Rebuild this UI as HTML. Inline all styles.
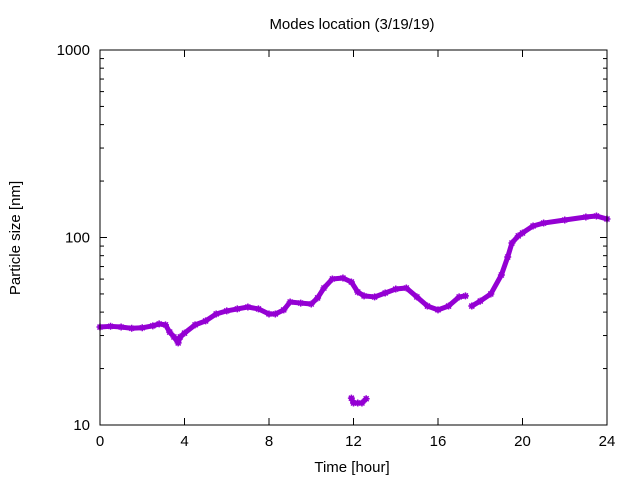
<!DOCTYPE html>
<html><head><meta charset="utf-8"><style>
body{margin:0;background:#fff;}
svg text{font-family:"Liberation Sans",sans-serif;font-size:15px;fill:#000;}
</style></head><body>
<svg id="chart" width="640" height="480" xmlns="http://www.w3.org/2000/svg">
<rect width="640" height="480" fill="#fff"/>
<text x="352" y="29" text-anchor="middle">Modes location (3/19/19)</text>
<text x="352" y="472" text-anchor="middle">Time [hour]</text>
<text x="20" y="238" text-anchor="middle" transform="rotate(-90 20 238)">Particle size [nm]</text>
<g id="axes"></g>
<g id="marks"></g>
<rect x="100" y="50" width="507" height="375" fill="none" stroke="#000" stroke-width="1"/>
</svg>
<script>
const xTicks=[0,4,8,12,16,20,24];
const yTicks=[10,100,1000];
const mainT=[0,0.5,1,1.5,2,2.5,2.8,3.1,3.3,3.5,3.7,3.8,4,4.5,5,5.5,6,6.5,7,7.5,8,8.3,8.7,9,9.5,10,10.3,10.6,11,11.5,11.9,12.2,12.5,13,13.5,14,14.5,15,15.5,16,16.5,17,17.3];
const mainV=[33.3,33.6,33.3,32.8,33,33.8,34.6,34.2,31.3,29.5,27.4,29.5,30.9,34.2,35.9,39.1,40.6,41.6,42.6,41.6,39.1,39.1,41.1,45.3,44.7,44.2,47.6,53.8,60.1,60.8,57.9,51.2,48.8,48.2,50.6,53.1,53.8,48.2,43.1,41.1,43.1,48.2,48.8];
const lateT=[17.6,18,18.5,19,19.3,19.5,19.8,20,20.5,21,22,23,23.5,24];
const lateV=[43.1,45.8,50,63.1,78.7,93.5,102,105.7,115.2,119.4,124,128.6,130.2,125.5];
const lowT=[11.9,12,12.2,12.4,12.6];
const lowV=[13.9,13.1,13.1,13.1,13.8];
const X0=100,X1=607,Y0=425,Y1=50;
const xs=t=>X0+(t-0)/24*(X1-X0);
const ys=v=>Y0-(Math.log10(v)-1)/2*(Y0-Y1);
const NS="http://www.w3.org/2000/svg";
const axes=document.getElementById('axes'),marks=document.getElementById('marks');
function ln(p,x1,y1,x2,y2){const l=document.createElementNS(NS,'line');l.setAttribute('x1',x1);l.setAttribute('y1',y1);l.setAttribute('x2',x2);l.setAttribute('y2',y2);l.setAttribute('stroke','#000');p.appendChild(l);return l;}
xTicks.forEach(t=>{const x=xs(t);
const a=ln(axes,x,Y0,x,Y0-7);


ln(axes,x,Y1,x,Y1+7);
const tx=document.createElementNS(NS,'text');


tx.setAttribute('x',x);tx.setAttribute('y',446);tx.setAttribute('text-anchor','middle');tx.textContent=t;axes.appendChild(tx);});
yTicks.forEach(v=>{const y=ys(v);
const a=ln(axes,X0,y,X0+7,y);


ln(axes,X1,y,X1-7,y);
const tx=document.createElementNS(NS,'text');


tx.setAttribute('x',90);tx.setAttribute('y',y+5);tx.setAttribute('text-anchor','end');tx.textContent=v;axes.appendChild(tx);});
[10,100].forEach(d=>{for(let k=2;k<=9;k++){const y=ys(d*k);ln(axes,X0,y,X0+4,y);ln(axes,X1,y,X1-4,y);}});
function series(T,V,name){
const pts=T.map((t,i)=>xs(t)+','+ys(V[i])).join(' ');
const pl=document.createElementNS(NS,'polyline');


pl.setAttribute('points',pts);pl.setAttribute('fill','none');pl.setAttribute('stroke','#9400d3');pl.setAttribute('stroke-width','5');pl.setAttribute('stroke-linejoin','round');pl.setAttribute('stroke-linecap','round');
marks.appendChild(pl);
T.forEach((t,i)=>{const m=document.createElementNS(NS,'path');


const x=xs(t),y=ys(V[i]);
m.setAttribute('d',`M${x-3.5},${y}H${x+3.5}M${x},${y-3.5}V${y+3.5}M${x-2.5},${y-2.5}L${x+2.5},${y+2.5}M${x-2.5},${y+2.5}L${x+2.5},${y-2.5}`);
m.setAttribute('stroke','#9400d3');m.setAttribute('stroke-width','1.5');marks.appendChild(m);});
}
series(mainT,mainV,'main-mode');
series(lateT,lateV,'late-mode');
series(lowT,lowV,'low-mode');
</script>
</body></html>
